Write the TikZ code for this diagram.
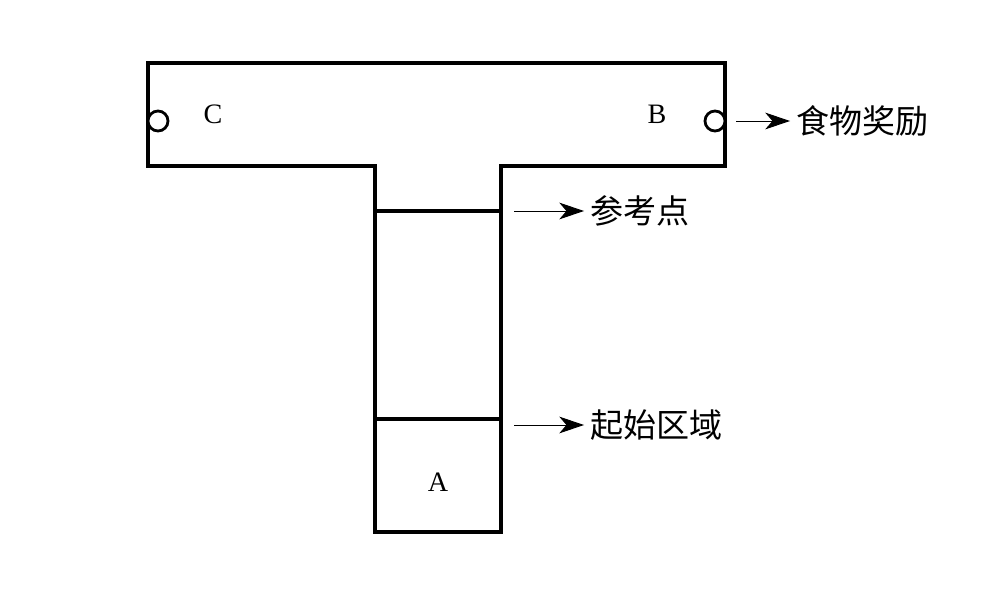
\documentclass[tikz,border=0pt]{standalone}
\usepackage{fontspec}
\setmainfont{Liberation Serif}
\newfontfamily\cjk{Noto Sans CJK SC}
\usetikzlibrary{arrows,arrows.meta,positioning}

\begin{document}
\begin{tikzpicture}[x=0.025cm,y=-0.025cm,
wall/.style={line width=2.2pt},
port/.style={circle,draw,line width=2pt,fill=white,
inner sep=0,minimum size=0.5cm},
letter/.style={font=\fontsize{20}{24}\selectfont},
note/.style={font=\cjk\fontsize{23.5}{28}\selectfont,
inner sep=0.15cm},
pointer/.style={line width=0.7pt,
-{Stealth[length=0.62cm,width=0.42cm,inset=0.18cm]}}]
\useasboundingbox (0,0) rectangle (1004,591);
% T maze outline
\draw[wall] (148,63) -- (725,63) -- (725,166)
-- (501,166) -- (501,532) -- (375,532)
-- (375,166) -- (148,166) -- cycle;
\draw[wall] (375,211) -- (501,211);
\draw[wall] (375,419) -- (501,419);
% arms and start box
\node[port] (portC) at (158,121) {};
\node[port] (portB) at (715,121) {};
\node[letter] (armC) at (213,114) {C};
\node[letter] (armB) at (657,114) {B};
\node[letter] (boxA) at (438,482) {A};
% labels
\node[note,anchor=west] (food) at (790,121) {食物奖励};
\draw[pointer,shorten <=0.25cm] (portB.east) -- (food);
\coordinate (refs) at (514,211);
\node[note,right=1.75cm of refs] (refpt) {参考点};
\draw[pointer] (refs) -- (refpt);
\coordinate (starts) at (514,425);
\node[note,right=1.75cm of starts] (startzone) {起始区域};
\draw[pointer] (starts) -- (startzone);
\end{tikzpicture}
\end{document}
